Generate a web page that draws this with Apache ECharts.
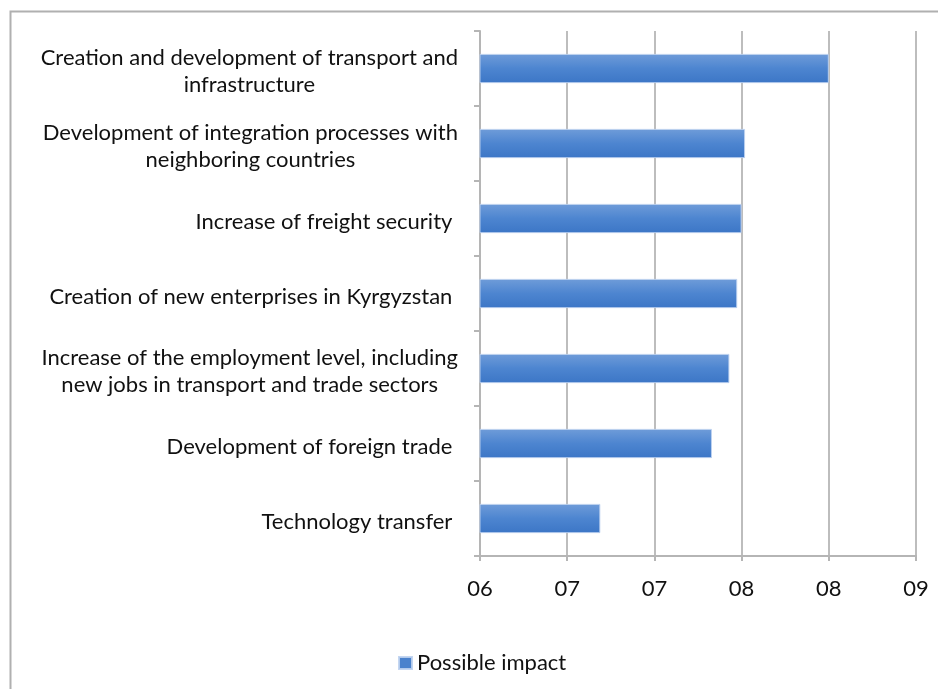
<!DOCTYPE html>
<html>
<head>
<meta charset="utf-8">
<script src="https://cdn.jsdelivr.net/npm/echarts@6/dist/echarts.min.js"></script>
<style>
  html, body { margin: 0; padding: 0; background: #fff; }
  #chart { width: 938px; height: 689px; }
</style>
</head>
<body>
<div id="chart"></div>
<script>
// categories, top to bottom
const categories = [
  'Creation and development of transport and\ninfrastructure',
  'Development of integration processes with\nneighboring countries',
  'Increase of freight security ',
  'Creation of new enterprises in Kyrgyzstan ',
  'Increase of the employment level, including\nnew jobs in transport and trade sectors',
  'Development of foreign trade ',
  'Technology transfer '
]
const impactValues = [8.0, 7.52, 7.5, 7.475, 7.43, 7.33, 6.69]
const tickLabels = ['06', '07', '07', '08', '08', '09']
const seriesName = 'Possible impact'

const chart = echarts.init(document.getElementById('chart'))
const fontFam = 'Lato, "Open Sans", sans-serif'

// 蓝色渐变柱子
const barColor = new echarts.graphic.LinearGradient(0, 0, 0, 1, [
  { offset: 0, color: '#6f9cd9' },
  { offset: 0.5, color: '#4d85d0' },
  { offset: 1, color: '#3c76c6' }
])

const option = {
  animation: false,
  backgroundColor: '#fff',
  textStyle: { fontFamily: fontFam },
  graphic: [{
    type: 'rect',
    left: 8,
    top: 9,
    shape: { width: 960, height: 720 },
    style: { fill: 'none', stroke: '#b0b0b0', lineWidth: 2 },
    silent: true
  }],
  legend: {
    left: 398,
    top: 652,
    padding: 0,
    itemWidth: 13,
    itemHeight: 12,
    icon: 'rect',
    textStyle: { color: '#111', fontSize: 22, fontFamily: fontFam },
    data: [{ name: seriesName, itemStyle: { color: '#4a82cd' } }]
  },
  grid: {
    left: 480,
    right: 22,
    top: 31,
    bottom: 133
  },
  xAxis: {
    type: 'value',
    min: 6,
    max: 8.5,
    interval: 0.5,
    axisLine: { show: true, lineStyle: { color: '#b5b5b5', width: 2 } },
    axisTick: { show: true, length: 5, lineStyle: { color: '#b5b5b5', width: 2 } },
    splitLine: { show: true, lineStyle: { color: '#bdbdbd', width: 2 } },
    axisLabel: {
      color: '#111',
      fontSize: 22,
      fontFamily: fontFam,
      margin: 22,
      formatter: (v, i) => tickLabels[i]
    }
  },
  yAxis: {
    type: 'category',
    inverse: true,
    data: categories,
    axisLine: { show: true, lineStyle: { color: '#b5b5b5', width: 2 } },
    axisTick: { show: true, length: 6, lineStyle: { color: '#b5b5b5', width: 2 } },
    axisLabel: {
      color: '#111',
      fontSize: 22,
      fontFamily: fontFam,
      margin: 22,
      lineHeight: 27,
      padding: [6, 0, 0, 0],
      // 多行居中
      formatter: (v) => v.split('\n').map(s => '{c|' + s + '}').join('\n'),
      rich: {
        c: { align: 'center', fontSize: 22, lineHeight: 27, fontFamily: fontFam, color: '#111' }
      }
    }
  },
  series: [{
    name: seriesName,
    type: 'bar',
    barWidth: '39%',
    data: impactValues,
    itemStyle: {
      color: barColor,
      borderColor: 'rgba(190,210,240,0.9)',
      borderWidth: 1
    }
  }]
}
chart.setOption(option)
</script>
</body>
</html>
